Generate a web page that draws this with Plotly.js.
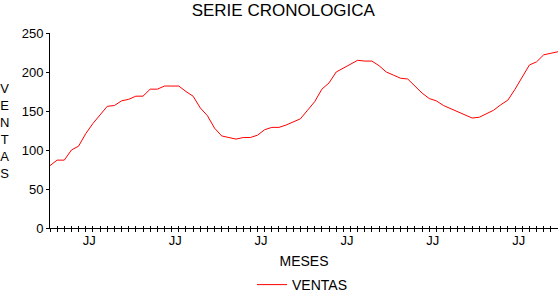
<!DOCTYPE html>
<html>
<head>
<meta charset="utf-8">
<script src="https://cdn.plot.ly/plotly-3.0.1.min.js"></script>
<style>html,body{margin:0;padding:0;background:#fff;}#chart{width:558px;height:294px;}</style>
</head>
<body>
<div id="chart"></div>
<script>
// Monthly sales (6 years, 72 months)
const ventas = [
  80, 87, 87, 100, 105, 121, 134, 145, 156, 157, 163, 165,
  169, 169, 178, 178, 182, 182, 182, 175, 169, 154, 144, 128,
  118, 116, 114, 116, 116, 119, 126, 129, 129, 132, 136, 140,
  151, 162, 178, 186, 200, 205, 210, 215, 214, 214, 208, 200,
  196, 192, 191, 182, 173, 166, 163, 157, 153, 148, 144, 141,
  142, 147, 151, 158, 164, 178, 194, 209, 213, 222, 224, 226
];
const jjLabels = ["JJ", "JJ", "JJ", "JJ", "JJ", "JJ"];
const yTicks = [0, 50, 100, 150, 200, 250];
const serieName = "VENTAS";
const titleText = "SERIE CRONOLOGICA";
const xTitle = "MESES";
const yTitleLetters = ["V", "E", "N", "T", "A", "S"];

const xIdx = ventas.map((_, i) => i);
const jjPos = jjLabels.map((_, k) => 5.5 + 12 * k);
const FONT = "Liberation Sans, Arial, sans-serif";

const traces = [
  {x: xIdx, y: ventas, type: "scatter", mode: "lines", name: serieName,
   line: {color: "#ff0000", width: 1}, hoverinfo: "skip"},
  {x: [], y: [], xaxis: "x2", type: "scatter", mode: "lines", showlegend: false, hoverinfo: "skip"},
  {x: [], y: [], xaxis: "x3", type: "scatter", mode: "lines", showlegend: false, hoverinfo: "skip"}
];

const rng = [0, ventas.length - 1];
const layout = {
  width: 558, height: 294,
  margin: {l: 50, r: 0, t: 33, b: 66, pad: 0, autoexpand: false},
  paper_bgcolor: "#fff", plot_bgcolor: "#fff",
  font: {family: FONT, size: 13, color: "#000"},
  showlegend: true,
  title: {text: titleText, font: {family: FONT, size: 17, color: "#000"},
          xref: "container", x: 0.5077, xanchor: "center",
          yref: "container", y: 1 - 10.5 / 294, yanchor: "middle",
          pad: {t: 0, b: 0, l: 0, r: 0}},
  xaxis: {range: rng, tickmode: "array", tickvals: jjPos, ticktext: jjLabels,
          ticks: "", showline: true, linecolor: "#000", linewidth: 1,
          showgrid: false, zeroline: false, fixedrange: true,
          tickfont: {size: 13},
          title: {text: xTitle, font: {size: 14}, standoff: 9}},
  xaxis2: {range: rng, overlaying: "x", anchor: "y", side: "bottom",
           tickmode: "array", tickvals: xIdx, ticks: "outside", ticklen: 3,
           tickcolor: "#000", showticklabels: false, showline: false,
           showgrid: false, zeroline: false},
  xaxis3: {range: rng, overlaying: "x", anchor: "y", side: "bottom",
           tickmode: "array", tickvals: xIdx, ticks: "inside", ticklen: 2,
           tickcolor: "#000", showticklabels: false, showline: false,
           showgrid: false, zeroline: false},
  yaxis: {range: [0, 250], tickmode: "array", tickvals: yTicks,
          ticks: "outside", ticklen: 3, tickcolor: "#000",
          showline: true, linecolor: "#000", linewidth: 1,
          showgrid: false, zeroline: false, fixedrange: true,
          tickfont: {size: 13}},
  legend: {orientation: "h", xref: "container", x: 252 / 558, xanchor: "left",
           yref: "container", y: 9 / 294, yanchor: "middle",
           font: {size: 14}, bgcolor: "rgba(0,0,0,0)"},
  annotations: [{
    text: yTitleLetters.join("<br>"), xref: "paper", yref: "paper",
    x: -45 / 507.65, xanchor: "center", y: 0.5, yanchor: "middle",
    showarrow: false, font: {size: 13}, align: "center"
  }]
};

Plotly.newPlot("chart", traces, layout, {staticPlot: true, displayModeBar: false});
</script>
</body>
</html>
